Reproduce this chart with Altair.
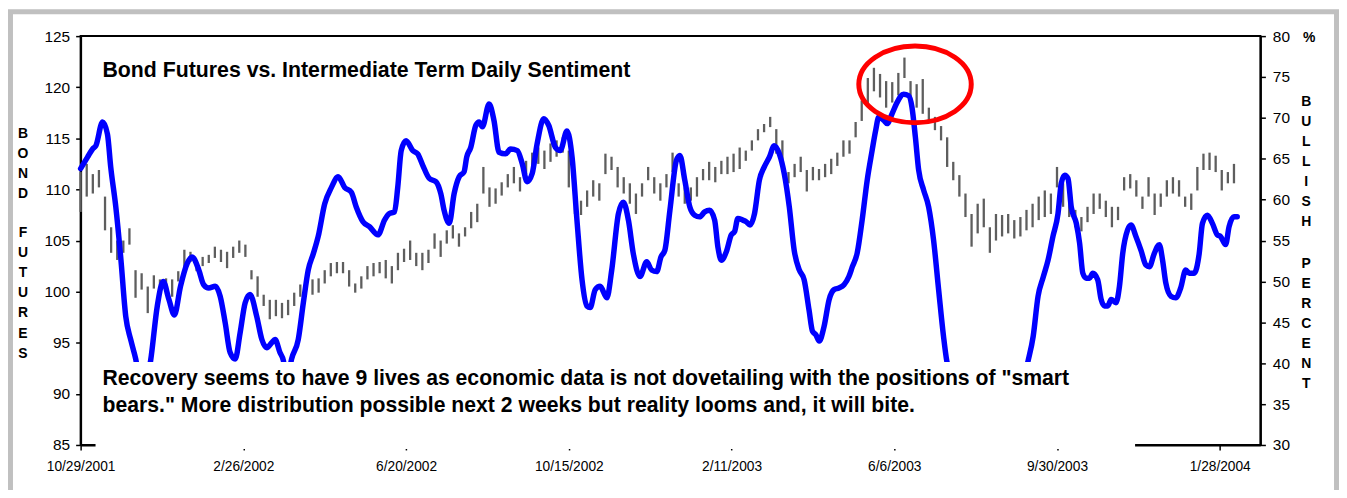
import altair as alt
import pandas as pd

# ---------------- data ----------------
dates = ["10/29/2001", "2/26/2002", "6/20/2002", "10/15/2002",
         "2/11/2003", "6/6/2003", "9/30/2003", "1/28/2004"]
date_pos = [0, 80, 160, 240, 320, 400, 480, 560]   # trading-day index of each label
bond_step = 3                                       # trading days between drawn bars

bond_high = [111.7, 112.5, 111.5, 111.9, 109.3, 106.3, 105.0, 105.0, 106.2, 102.1,
             101.8, 100.5, 101.6, 101.2, 101.3, 101.2, 102.0, 104.1, 103.9, 103.1,
             103.4, 103.6, 104.4, 104.1, 103.9, 104.4, 105.0, 104.6, 102.1, 101.5,
             99.7, 99.2, 99.2, 98.9, 99.2, 99.9, 100.7, 101.2, 101.2, 101.3,
             102.1, 102.8, 102.9, 102.9, 102.1, 100.8, 101.5, 102.5, 102.8, 102.9,
             103.1, 102.5, 103.8, 104.2, 105.0, 103.8, 103.8, 104.1, 105.7, 105.0,
             106.0, 106.5, 105.7, 106.3, 107.8, 108.6, 112.2, 110.2, 110.1, 110.7,
             111.5, 112.2, 111.2, 112.8, 113.6, 114.1, 113.8, 114.5, 114.8, 115.1,
             113.8, 109.3, 108.9, 109.9, 110.9, 110.6, 113.5, 113.2, 112.2, 111.2,
             110.6, 109.6, 110.6, 112.2, 111.2, 110.6, 111.5, 113.6, 110.6, 110.2,
             110.2, 111.2, 112.0, 112.7, 112.2, 112.8, 113.2, 113.5, 114.1, 113.8,
             114.8, 115.9, 116.4, 117.1, 115.9, 114.8, 111.7, 112.5, 113.2, 111.9,
             112.2, 112.0, 112.5, 113.0, 113.6, 114.8, 114.8, 116.6, 118.7, 120.9,
             121.9, 121.3, 120.6, 120.5, 121.4, 122.9, 120.6, 120.3, 120.8, 118.0,
             117.1, 116.2, 115.1, 112.7, 111.4, 109.6, 107.6, 108.6, 109.1, 106.3,
             107.6, 107.5, 107.6, 107.0, 107.3, 108.0, 108.6, 109.3, 109.9, 109.6,
             112.2, 110.6, 109.3, 108.0, 107.3, 108.3, 109.6, 109.6, 108.9, 108.3,
             108.3, 111.2, 111.5, 110.9, 109.3, 111.2, 109.6, 109.6, 110.9, 111.2,
             110.9, 109.3, 109.6, 112.2, 113.5, 113.6, 113.3, 111.9, 111.7, 112.5]

bond_low = [107.8, 109.3, 109.6, 110.2, 106.0, 103.8, 103.1, 103.8, 104.6, 99.4,
            100.2, 97.9, 100.3, 100.0, 99.7, 99.5, 101.0, 102.1, 102.9, 102.0,
            102.5, 102.8, 103.3, 102.9, 102.3, 103.3, 103.8, 103.4, 101.2, 99.5,
            98.6, 97.3, 97.6, 97.4, 97.7, 98.6, 99.5, 100.2, 99.7, 99.9,
            100.8, 101.5, 101.8, 101.8, 100.5, 99.9, 100.3, 101.2, 101.5, 101.8,
            101.3, 100.8, 102.1, 102.9, 103.1, 102.5, 102.1, 102.8, 104.2, 103.4,
            104.7, 105.2, 104.4, 105.4, 106.2, 106.8, 109.6, 108.3, 108.6, 109.4,
            110.2, 110.6, 109.8, 111.5, 112.3, 112.5, 112.0, 112.7, 113.2, 113.6,
            110.2, 107.6, 107.5, 108.3, 109.3, 108.9, 111.5, 111.9, 110.2, 109.6,
            108.6, 107.6, 109.3, 110.9, 109.6, 108.9, 110.2, 111.7, 109.3, 108.6,
            108.9, 109.3, 110.9, 110.9, 110.7, 111.5, 111.5, 111.7, 112.0, 112.8,
            113.8, 114.8, 115.6, 116.1, 113.5, 112.8, 110.6, 111.2, 111.7, 109.8,
            110.9, 110.9, 111.2, 111.5, 112.3, 113.2, 113.5, 115.1, 116.7, 118.4,
            119.6, 119.0, 118.0, 118.5, 119.2, 120.9, 118.8, 118.0, 117.4, 116.7,
            115.8, 114.8, 112.2, 110.9, 109.3, 107.3, 104.4, 105.7, 106.3, 103.8,
            105.0, 105.4, 105.7, 105.2, 105.4, 106.0, 106.3, 107.0, 107.3, 107.6,
            110.2, 108.3, 107.3, 106.3, 105.9, 106.8, 107.6, 108.1, 107.3, 106.3,
            107.0, 109.9, 110.1, 109.3, 108.1, 109.3, 107.5, 108.3, 109.3, 109.6,
            109.3, 108.3, 108.0, 109.9, 111.9, 111.9, 111.7, 109.9, 110.6, 110.6]

sent_x = [0, 3.4, 5.9, 7.5, 10.8, 13.2, 14.8, 17.3, 19.7, 22.2, 24.6, 27.1, 30.3, 34.4,
          37.7, 40.6, 43.4, 46.1, 49.1, 52.4, 54.8, 58.1, 60.5, 63.0, 66.2, 68.6, 71.1,
          73.5, 76.0, 78.4, 80.9, 83.3, 86.6, 89.1, 91.5, 93.9, 95.6, 98.0, 99.7, 101.3,
          103.7, 107.0, 109.5, 111.9, 114.4, 116.8, 120.0, 123.3, 126.6, 129.8, 133.1,
          135.5, 138.8, 142.0, 146.2, 149.4, 151.8, 154.3, 155.9, 157.6, 160.0, 163.3,
          165.7, 168.2, 171.4, 174.7, 177.1, 178.7, 181.2, 183.6, 186.1, 188.5, 189.8,
          191.8, 194.3, 195.9, 197.5, 200.8, 203.2, 205.7, 208.9, 211.4, 214.7, 217.1,
          219.5, 222.0, 224.4, 227.7, 230.1, 233.4, 235.8, 239.1, 241.6, 244.0, 246.5,
          248.9, 250.5, 253.0, 255.4, 258.7, 261.1, 264.4, 266.8, 269.3, 271.7, 275.0,
          278.3, 280.7, 283.2, 285.3, 287.2, 289.7, 292.9, 294.6, 297.0, 299.5, 301.9,
          304.3, 306.8, 309.2, 311.7, 313.3, 315.0, 317.4, 319.9, 321.5, 323.1, 325.5,
          327.2, 329.1, 331.3, 333.7, 336.1, 338.6, 341.0, 343.5, 345.9, 348.4, 350.8,
          353.3, 355.7, 358.1, 359.8, 361.4, 363.1, 365.5, 368.0, 370.4, 372.8, 375.3,
          377.7, 379.4, 381.8, 384.2, 386.7, 389.1, 390.8, 392.4, 394.9, 396.5, 398.9,
          401.4, 404.6, 407.1, 408.7, 410.4, 412.0, 414.4, 416.9, 419.3, 421.8, 424.2,
          425.8, 435.0, 444.8, 454.6, 465.8, 468.3, 470.7, 473.2, 475.6, 478.0, 480.5,
          482.1, 483.8, 485.4, 487.0, 489.5, 491.1, 492.7, 494.3, 496.0, 497.6, 500.0,
          501.7, 503.3, 505.0, 506.6, 509.0, 510.7, 512.3, 514.7, 516.4, 518.8, 521.3,
          523.7, 525.4, 527.8, 530.3, 531.9, 533.5, 536.0, 538.4, 540.8, 543.3, 545.0,
          547.4, 549.9, 551.5, 553.9, 556.4, 558.8, 560.4, 562.9, 564.6, 567.0, 568.6]

sent_val = [63.8, 65.2, 66.2, 66.6, 69.5, 68.0, 64.0, 59.1, 53.0, 45.7, 42.9, 40.5, 36.0, 40.3,
            47.0, 50.0, 47.8, 45.9, 49.4, 52.2, 53.0, 51.4, 49.6, 49.2, 49.4, 48.2, 44.9,
            41.3, 40.5, 43.7, 47.4, 48.4, 45.7, 42.9, 41.9, 42.5, 42.9, 41.3, 40.3, 37.5,
            40.5, 42.9, 47.4, 51.4, 53.4, 55.5, 59.5, 61.5, 62.8, 61.5, 60.9,
            59.1, 57.3, 56.7, 55.7, 57.5, 58.3, 58.5, 61.5, 66.0, 67.2, 66.0,
            65.6, 64.2, 62.6, 62.2, 60.7, 58.7, 57.1, 60.7, 62.8, 63.4, 65.2,
            66.4, 69.1, 69.5, 68.9, 71.7, 69.7, 65.8, 65.6, 66.2, 66.0, 64.4,
            62.2, 63.2, 66.8, 69.9, 69.1, 66.4, 66.0, 68.4, 65.2, 57.5, 50.2,
            47.0, 46.8, 49.0, 49.4, 48.0, 51.4, 58.3, 59.7, 57.5, 53.4, 50.6,
            52.4, 51.4, 51.2, 53.0, 53.8, 58.7, 64.8, 65.4, 62.4, 59.1, 58.1,
            57.9, 58.5, 58.7, 57.5, 54.2, 52.6, 53.6, 55.7, 56.1, 57.7, 57.5,
            57.3, 56.9, 58.3, 62.4, 64.0, 65.2, 66.6, 65.6, 63.2, 59.1, 53.8,
            51.4, 50.2, 46.5, 43.9, 43.5, 42.7, 44.5, 47.8, 49.0, 49.2, 49.6,
            50.6, 51.8, 53.5, 57.5, 62.4, 66.0, 68.4, 70.1, 69.7, 69.3, 70.5,
            71.9, 72.9, 72.7, 71.3, 67.6, 63.6, 61.2, 59.1, 55.1, 49.0, 43.3,
            40.3, 34.0, 32.0, 34.0, 40.3, 43.3, 48.2, 50.5, 52.6, 55.5, 58.3,
            62.0, 63.0, 62.6, 59.1, 57.1, 54.7, 51.0, 50.4, 50.4, 51.0, 50.2,
            47.8, 47.0, 47.0, 47.8, 47.4, 49.4, 53.4, 56.3, 56.9, 55.5, 53.8,
            52.0, 51.8, 53.4, 54.5, 52.6, 49.8, 48.2, 48.0, 49.2, 51.4, 51.0,
            51.0, 53.4, 57.1, 58.1, 57.1, 55.7, 55.5, 54.5, 56.7, 57.9, 57.9]

left_ticks = [85, 90, 95, 100, 105, 110, 115, 120, 125]
right_ticks = [30, 35, 40, 45, 50, 55, 60, 65, 70, 75, 80]

title_text = "Bond Futures vs. Intermediate Term Daily Sentiment"
note_lines = ['Recovery seems to have 9 lives as economic data is not dovetailing with the positions of "smart',
              'bears." More distribution possible next 2 weeks but reality looms and, it will bite.']
left_title = [list("BOND"), list("FUTURES")]
right_title = [list("BULLISH"), list("PERCENT")]

# ---------------- chart ----------------
FONT = "Liberation Sans"
W, H = 1186, 411
XMAX = 580

bars_df = pd.DataFrame({"day": [i * bond_step for i in range(len(bond_high))],
                        "high": bond_high, "low": bond_low})
sent_df = pd.DataFrame({"day": sent_x, "pct": sent_val})
one = pd.DataFrame({"k": [0]})

xscale = alt.Scale(domain=[0, XMAX], nice=False, zero=False)
label_expr = "[" + ",".join(f"'{d}'" for d in dates) + "][round(datum.value / 80)]"

bars = alt.Chart(bars_df).mark_rule(color="#5e5e5e", strokeWidth=2.3).encode(
    x=alt.X("day:Q", scale=xscale, title=None,
            axis=alt.Axis(values=date_pos, labelExpr=label_expr, title=None, grid=False,
                          labelFontSize=13.8, labelPadding=10, tickSize=5, tickWidth=1.5,
                          domainWidth=2, labelFlush=False)),
    y=alt.Y("low:Q", title=None,
            scale=alt.Scale(domain=[85, 125], nice=False, zero=False),
            axis=alt.Axis(orient="left", values=left_ticks, title=None, grid=False,
                          labelFontSize=15.5, labelPadding=6, tickSize=5, tickWidth=1.5,
                          domainWidth=2)),
    y2="high:Q",
)

line = alt.Chart(sent_df).mark_line(color="#0000ff", strokeWidth=5.5, interpolate="monotone",
                                    strokeCap="round", strokeJoin="round").encode(
    x=alt.X("day:Q", scale=xscale, title=None),
    y=alt.Y("pct:Q", title=None,
            scale=alt.Scale(domain=[30, 80], nice=False, zero=False),
            axis=alt.Axis(orient="right", values=right_ticks, title=None, grid=False,
                          labelFontSize=15.5, labelPadding=7, tickSize=5, tickWidth=1.5,
                          domainWidth=2)),
)

# white text box that hides the lower part of the plot
box = alt.Chart(one).mark_rect(color="white").encode(
    x=alt.value(15), x2=alt.value(1060), y=alt.value(327.5), y2=alt.value(415))

ellipse_path = ("M -1.468 0 C -1.468 -0.5523 -0.8108 -1 0 -1 C 0.8108 -1 1.468 -0.5523 1.468 0 "
                "C 1.468 0.5523 0.8108 1 0 1 C -0.8108 1 -1.468 0.5523 -1.468 0 Z")
ellipse = alt.Chart(one).mark_point(shape=ellipse_path, size=5929, filled=False,
                                    stroke="#ff0000", strokeWidth=5, opacity=1).encode(
    x=alt.value(838.8), y=alt.value(48.5))

def txt(text, x, y, size, align="left", lh=None):
    kw = dict(text=text, font=FONT, fontSize=size, fontWeight="bold", color="black",
              align=align, baseline="alphabetic")
    if lh is not None:
        kw["lineHeight"] = lh
    return alt.Chart(one).mark_text(**kw).encode(x=alt.value(x), y=alt.value(y))

title = txt(title_text, 22, 41, 21.4)
note = txt(note_lines, 22, 351, 21.3, lh=26.7)
lt1 = txt(left_title[0], -58, 102, 14, align="center", lh=20.2)
lt2 = txt(left_title[1], -58, 202, 14, align="center", lh=20.2)
rt1 = txt(right_title[0], 1232, 70, 14, align="center", lh=20.2)
rt2 = txt(right_title[1], 1232, 233, 14, align="center", lh=20.2)
pct = txt("%", 1235, 6, 14, align="center")

frame = alt.Chart(one).mark_rect(filled=False, stroke="#c0c0c0", strokeWidth=5).encode(
    x=alt.value(-70.5), x2=alt.value(1262.5), y=alt.value(-24.5), y2=alt.value(480))

chart = alt.layer(bars, line, box, ellipse, title, note, lt1, lt2, rt1, rt2, pct, frame).resolve_scale(
    y="independent"
).properties(
    width=W, height=H,
    autosize=alt.AutoSizeParams(type="none"),
    padding={"left": 73, "top": 27, "right": 79, "bottom": 44},
    background="white",
).configure_view(stroke="black", strokeWidth=2).configure_axis(
    labelFont=FONT, labelColor="black", domainColor="black", tickColor="black", grid=False
)

chart.save("out.html", embed_options={"renderer": "svg", "actions": False})
